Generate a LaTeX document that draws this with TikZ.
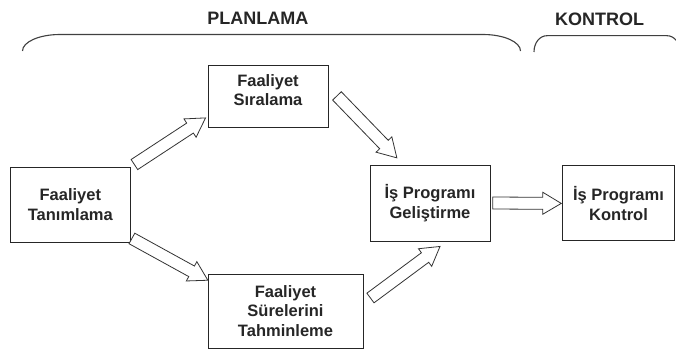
\documentclass[tikz,border=0pt]{standalone}
\usepackage{fontspec}
\setmainfont{Liberation Sans}
\usetikzlibrary{calc}

\tikzset{
  box/.style={draw=black!85, line width=0.9pt, inner sep=0pt, fill=white},
  boxtext/.style={font=\fontsize{16.5}{19.5}\selectfont\bfseries, text=black!85, align=center},
  title/.style={font=\fontsize{18}{20}\selectfont\bfseries, text=black!85, anchor=base},
  blockarrow/.style={draw=black!80, line width=0.8pt, fill=white, line join=miter},
  bracket/.style={draw=black!75, line width=1.1pt},
}

% Hollow block arrow from #1 (tail centre) to #2 (tip):
% shaft half-width 6pt, head half-width 11pt, head length 18.5pt
\newcommand\hollowarrow[2]{%
  \draw[blockarrow] let \p1=(#1), \p2=(#2),
      \n1={atan2(\y2-\y1,\x2-\x1)},
      \n2={veclen(\x2-\x1,\y2-\y1)-18.5pt} in
    ($(\p1)+(\n1+90:6pt)$) -- ++(\n1:\n2) -- ++(\n1+90:5pt) -- (\p2)
    -- ($(\p2)+(\n1+180:18.5pt)+(\n1-90:11pt)$) -- ++(\n1+90:5pt)
    -- ($(\p1)+(\n1-90:6pt)$) -- cycle;}

\begin{document}
\begin{tikzpicture}[x=1pt,y=-1pt]
  \clip (0,0) rectangle (676,350);
  \fill[white] (0,0) rectangle (676,350);

  % phase headings and their brackets
  \node[title] (plan) at (257.8,25) {PLANLAMA};
  \node[title] (kont) at (599.5,26) {KONTROL};
  \draw[bracket] (22.5,51) .. controls (22.5,42) and (39,34.5) .. (60,34.5)
    -- (483,34.5) .. controls (504,34.5) and (520.5,42) .. (520.5,51);
  \draw[bracket] (534,52) .. controls (534,43) and (539.5,35.7) .. (547,35.7)
    -- (667,35.7) .. controls (674.5,35.7) and (680,43) .. (680,52);

  % process steps
  \node[box, boxtext, minimum width=119.3pt, minimum height=75pt] (tan) at (70.3,204.5)
    {Faaliyet\\Tanımlama};
  \node[box, minimum width=120pt, minimum height=61.5pt] (sira) at (268,96.7) {};
  \node[boxtext] (siratxt) at (268,90) {Faaliyet\\Sıralama};
  \node[box, boxtext, minimum width=155pt, minimum height=74pt] (sure) at (285.5,311)
    {Faaliyet\\Sürelerini\\Tahminleme};
  \node[box, boxtext, minimum width=120pt, minimum height=76pt] (gel) at (430,203)
    {İş Programı\\Geliştirme};
  \node[box, boxtext, minimum width=112pt, minimum height=75pt] (kon) at (618.5,203.4)
    {İş Programı\\Kontrol};

  % arrow end points
  \coordinate (a1s) at ([shift={(4,-2)}]tan.north east);
  \coordinate (a1e) at ([shift={(-2,-10)}]sira.south west);
  \coordinate (a2s) at ([shift={(8.5,-0.8)}]sira.east);
  \coordinate (a2e) at ([shift={(27.3,-6.7)}]gel.north west);
  \coordinate (a3s) at ([shift={(1.5,-4)}]tan.south east);
  \coordinate (a3e) at ([shift={(0.3,6.7)}]sure.north west);
  \coordinate (a4s) at ([shift={(7,-13)}]sure.east);
  \coordinate (a4e) at ([shift={(10,5)}]gel.south);
  \coordinate (a5s) at ([shift={(2.3,0)}]gel.east);
  \coordinate (a5e) at ([shift={(-0.8,0)}]kon.west);

  \hollowarrow{a1s}{a1e}
  \hollowarrow{a2s}{a2e}
  \hollowarrow{a3s}{a3e}
  \hollowarrow{a4s}{a4e}
  \hollowarrow{a5s}{a5e}
\end{tikzpicture}
\end{document}
